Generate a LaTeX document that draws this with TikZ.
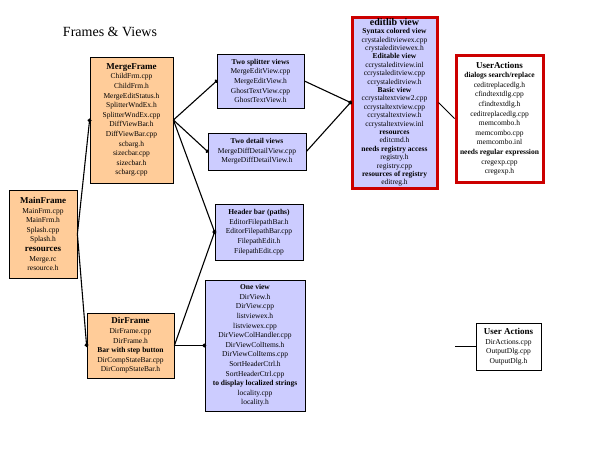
\documentclass[tikz,border=0pt]{standalone}
\usepackage{fontspec}
\setmainfont{Liberation Serif}
\usetikzlibrary{arrows.meta}
\definecolor{peach}{RGB}{255,204,153}
\definecolor{lav}{RGB}{204,204,255}
\definecolor{redb}{RGB}{204,0,0}
\newcommand\ttl[1]{{\bfseries\fontsize{9}{9.6}\selectfont #1}}
\newcommand\sub[1]{{\bfseries #1}}
\begin{document}
\begin{tikzpicture}[x=1pt,y=-1pt,
  box/.style={draw=black, line width=0.8pt, inner sep=0pt, align=center,
    font=\fontsize{7.5}{9.6}\selectfont},
  frame/.style={box, fill=peach},
  view/.style={box, fill=lav},
  redbox/.style={box, draw=redb, line width=3pt},
  conn/.style={line width=1.1pt, -{Circle[length=3.8pt]}, shorten >=-1.5pt},
  plain/.style={line width=1pt}]
\useasboundingbox (0,0) rectangle (600,450);
\node[font=\fontsize{14}{16}\selectfont] (title) at (110,32) {Frames \& Views};

\node[frame, minimum width=83, minimum height=126] (merge) at (131.5,120)
 {\ttl{MergeFrame}\\ChildFrm.cpp\\ChildFrm.h\\MergeEditStatus.h\\SplitterWndEx.h\\SplitterWndEx.cpp\\DiffViewBar.h\\DiffViewBar.cpp\\scbarg.h\\sizecbar.cpp\\sizecbar.h\\scbarg.cpp};
\node[frame, minimum width=68, minimum height=88] (main) at (43,234)
 {\ttl{MainFrame}\\MainFrm.cpp\\MainFrm.h\\Splash.cpp\\Splash.h\\\ttl{resources}\\Merge.rc\\resource.h};
\node[frame, minimum width=87, minimum height=65] (dir) at (130.5,345.5)
 {\ttl{DirFrame}\\DirFrame.cpp\\DirFrame.h\\\sub{Bar with step button}\\DirCompStateBar.cpp\\DirCompStateBar.h};

\node[view, minimum width=87, minimum height=54] (split) at (260.5,81)
 {\sub{Two splitter views}\\MergeEditView.cpp\\MergeEditView.h\\GhostTextView.cpp\\GhostTextView.h};
\node[view, minimum width=98, minimum height=37] (detail) at (257,151.5)
 {\sub{Two detail views}\\MergeDiffDetailView.cpp\\MergeDiffDetailView.h};
\node[view, minimum width=88, minimum height=56] (header) at (259,232)
 {\sub{Header bar (paths)}\\EditorFilepathBar.h\\EditorFilepathBar.cpp\\FilepathEdit.h\\FilepathEdit.cpp};
\node[view, minimum width=100, minimum height=131] (one) at (255,345.5)
 {\sub{One view}\\DirView.h\\DirView.cpp\\listviewex.h\\listviewex.cpp\\DirViewColHandler.cpp\\DirViewColItems.h\\DirViewColItems.cpp\\SortHeaderCtrl.h\\SortHeaderCtrl.cpp\\\sub{to display localized strings}\\locality.cpp\\locality.h};

\node[redbox, fill=lav, minimum width=85, minimum height=171, font=\fontsize{7.5}{8.4}\selectfont] (edit) at (394.5,102.5)
 {{\bfseries\fontsize{10}{10}\selectfont editlib view}\\\sub{Syntax colored view}\\crystaleditviewex.cpp\\crystaleditviewex.h\\\sub{Editable view}\\ccrystaleditview.inl\\ccrystaleditview.cpp\\ccrystaleditview.h\\\sub{Basic view}\\ccrystaltextview2.cpp\\ccrystaltextview.cpp\\ccrystaltextview.h\\ccrystaltextview.inl\\\sub{resources}\\editcmd.h\\\sub{needs registry access}\\registry.h\\registry.cpp\\\sub{resources of registry}\\editreg.h};

\node[redbox, fill=white, minimum width=87, minimum height=127] (ua1) at (499.5,118.5)
 {\ttl{UserActions}\\\sub{dialogs search/replace}\\ceditreplacedlg.h\\cfindtextdlg.cpp\\cfindtextdlg.h\\ceditreplacedlg.cpp\\memcombo.h\\memcombo.cpp\\memcombo.inl\\\sub{needs regular expression}\\cregexp.cpp\\cregexp.h};
\node[box, fill=white, minimum width=65, minimum height=47] (ua2) at (508.5,346.5)
 {\ttl{User Actions}\\DirActions.cpp\\OutputDlg.cpp\\OutputDlg.h};
\coordinate (ua2in) at (455,346.5);

\draw[conn] (main.east) -- (merge.west);
\draw[conn] (main.east) -- (dir.west);
\draw[conn] (merge.east) -- (split.west);
\draw[conn] (merge.east) -- (detail.west);
\draw[conn] (merge.east) -- (header.west);
\draw[conn] (dir.east) -- (header.west);
\draw[conn] (dir.east) -- (one.west);
\draw[conn] (split.east) -- (edit.west);
\draw[conn] (detail.east) -- (edit.west);
\draw[plain] (edit.east) -- (ua1.west);
\draw[plain] (ua2in) -- (ua2.west);
\end{tikzpicture}
\end{document}
